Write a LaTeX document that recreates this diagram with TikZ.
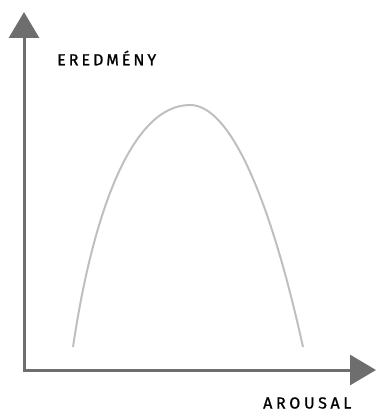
\documentclass[tikz,border=0pt]{standalone}
\usepackage{fontspec}
\setmainfont{Fira Sans}
\newfontfamily\ylabfont{Fira Sans}[LetterSpace=19,FakeBold=1]
\newfontfamily\xlabfont{Fira Sans}[LetterSpace=23,FakeBold=1]
\usetikzlibrary{arrows.meta}
\definecolor{axisgray}{HTML}{6E6E6E}
\definecolor{curvegray}{HTML}{C2BEBE}
\begin{document}
\begin{tikzpicture}[x=1pt,y=-1pt,
  axis/.style={draw=axisgray,line width=3pt,-{Triangle[length=26pt,width=30pt,fill=axisgray]}},
  curvestyle/.style={draw=curvegray,line width=2pt},
  lbl/.style={text=black,inner sep=0pt}]
\useasboundingbox (0,0) rectangle (376,412);
\coordinate (o) at (24,370);
\coordinate (ytip) at (24,12);
\coordinate (xtip) at (376,370);
\coordinate (cl) at (73,347);
\coordinate (cp) at (190,105);
\coordinate (cr) at (303,347);
\draw[axis] (o) -- (ytip);
\draw[axis] ([xshift=-1.5pt]o) -- (xtip);
\draw[curvestyle] (cl) .. controls (93,212) and (132,105) .. (cp)
  .. controls (229,105) and (269,193) .. (cr);
\node[lbl,anchor=west,font=\ylabfont\fontsize{16pt}{17pt}\selectfont] (ylab) at (57,58) {EREDMÉNY};
\node[lbl,anchor=west,font=\xlabfont\fontsize{16pt}{17pt}\selectfont] (xlab) at (263,403) {AROUSAL};
\end{tikzpicture}
\end{document}
